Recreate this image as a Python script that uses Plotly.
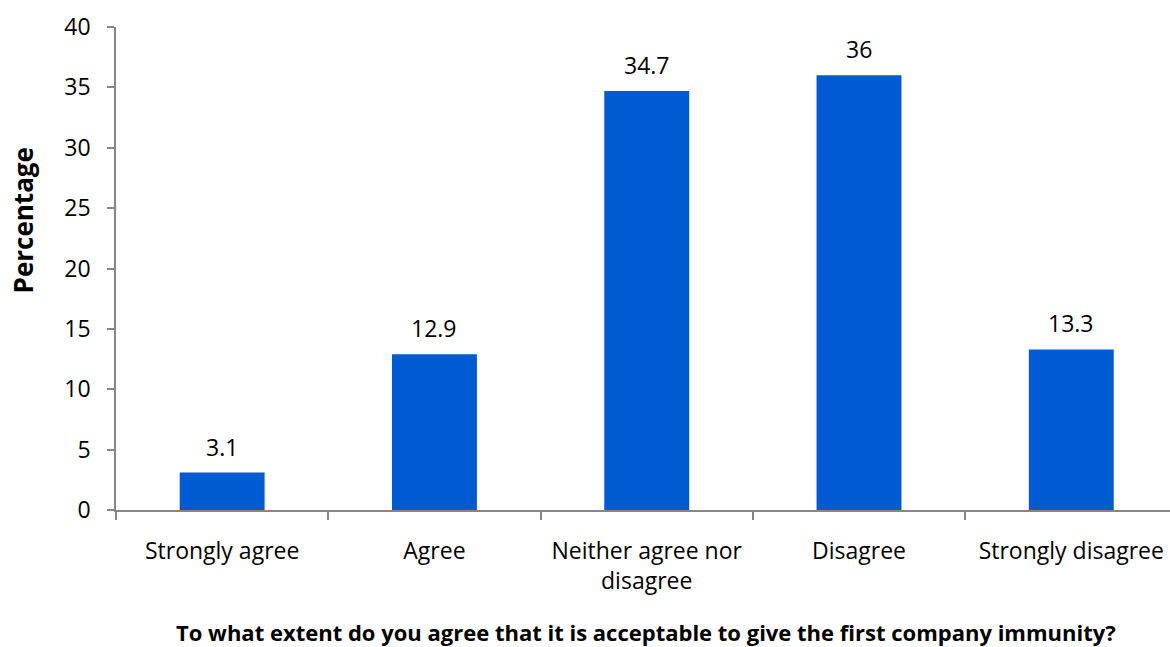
import plotly.graph_objects as go

# Survey responses (percent of respondents)
categories = ["Strongly agree", "Agree", "Neither agree nor<br>disagree", "Disagree", "Strongly disagree"]
percentages = [3.1, 12.9, 34.7, 36, 13.3]
value_labels = ["3.1", "12.9", "34.7", "36", "13.3"]
y_ticks = [0, 5, 10, 15, 20, 25, 30, 35, 40]

BAR_COLOR = "#005AD2"
AXIS_COLOR = "#868686"
FONT = "Open Sans"

fig = go.Figure()
fig.add_trace(go.Bar(
    x=list(range(len(categories))),
    y=percentages,
    width=0.4,
    marker=dict(color=BAR_COLOR, line=dict(width=0)),
    hoverinfo="skip",
))

# Value labels above each bar
for i, (v, lbl) in enumerate(zip(percentages, value_labels)):
    fig.add_annotation(
        x=i, y=v, text=lbl, showarrow=False,
        yanchor="middle", yshift=26,
        font=dict(family=FONT, size=23, color="#000000"),
    )

# Y-axis title
fig.add_annotation(
    xref="paper", yref="paper", x=-0.088, y=0.6, xanchor="center", yanchor="middle",
    text="<b>Percentage</b>", textangle=-90, showarrow=False,
    font=dict(family=FONT, size=26, color="#000000"),
)

# X-axis title
fig.add_annotation(
    xref="paper", yref="paper", x=0.503, y=-0.2526, xanchor="center", yanchor="middle",
    text="<b>To what extent do you agree that it is acceptable to give the first company immunity?</b>",
    showarrow=False,
    font=dict(family=FONT, size=22, color="#000000"),
)

fig.update_layout(
    width=1170, height=647,
    margin=dict(l=116, r=0, t=27, b=137),
    paper_bgcolor="white", plot_bgcolor="white",
    showlegend=False,
    font=dict(family=FONT, size=23, color="#000000"),
    xaxis=dict(
        range=[-0.5, 4.465],
        tickmode="array",
        tickvals=list(range(len(categories))),
        ticktext=categories,
        showline=True, linecolor=AXIS_COLOR, linewidth=1.5,
        ticks="", showgrid=False, zeroline=False,
        ticklabelstandoff=20,
        tickfont=dict(family=FONT, size=23, color="#000000"),
        minor=dict(tickvals=[-0.5, 0.5, 1.5, 2.5, 3.5], ticks="outside",
                   ticklen=8, tickcolor=AXIS_COLOR, tickwidth=1.5),
    ),
    yaxis=dict(
        range=[0, 40],
        tickmode="array",
        tickvals=y_ticks,
        ticktext=[str(t) for t in y_ticks],
        showline=True, linecolor=AXIS_COLOR, linewidth=1.5,
        ticks="outside", ticklen=7, tickcolor=AXIS_COLOR, tickwidth=1.5,
        showgrid=False, zeroline=False,
        ticklabelstandoff=12,
        tickfont=dict(family=FONT, size=23, color="#000000"),
    ),
)

fig.write_html("out.html")
